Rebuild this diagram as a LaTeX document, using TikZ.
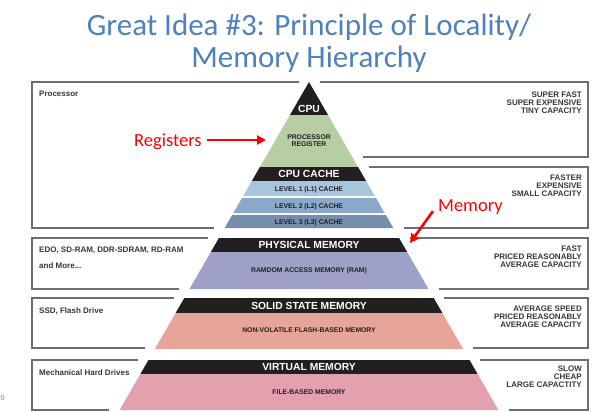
\documentclass[tikz,border=0pt]{standalone}
\usepackage{fontspec}
\setmainfont{Liberation Sans}
\newfontfamily\calib{Carlito}
\usetikzlibrary{arrows.meta}
\definecolor{ttl}{RGB}{79,129,189}
\definecolor{band}{RGB}{35,31,32}
\definecolor{regc}{RGB}{183,206,165}
\definecolor{lone}{RGB}{168,197,222}
\definecolor{ltwo}{RGB}{137,168,202}
\definecolor{lthree}{RGB}{118,142,174}
\definecolor{ramc}{RGB}{157,160,199}
\definecolor{ssdc}{RGB}{231,165,153}
\definecolor{filec}{RGB}{227,161,176}
\definecolor{boxc}{RGB}{110,110,110}
\definecolor{lbl}{RGB}{55,55,55}
\newcommand\pyrlayer[3]{\fill[#3] ({309-(#1-82)*0.5774},#1) -- ({309+(#1-82)*0.5774},#1) -- ({309+(#2-82)*0.5774},#2) -- ({309-(#2-82)*0.5774},#2) -- cycle;}
\newcommand\boxL[2]{\draw[frame] ({309-(#1-82)*0.5774-10.5},#1) -- (32,#1) -- (32,#2) -- ({309-(#2-82)*0.5774-10.5},#2);}
\newcommand\boxR[2]{\draw[frame] ({309+(#1-82)*0.5774+10.5},#1) -- (588,#1) -- (588,#2) -- ({309+(#2-82)*0.5774+10.5},#2);}
\tikzset{
 head/.style={font=\bfseries\fontsize{10.3}{10.3}\selectfont, text=white, inner sep=0, anchor=base},
 small/.style={font=\bfseries\fontsize{6.8}{6.8}\selectfont, text=band, inner sep=0, anchor=base, align=center},
 sidel/.style={font=\bfseries\fontsize{8}{8}\selectfont, text=lbl, inner sep=0, anchor=base west},
 sider/.style={font=\bfseries\fontsize{8}{8}\selectfont, text=lbl, inner sep=0, anchor=north east, align=right},
 frame/.style={draw=boxc, line width=1.2pt},
 redtxt/.style={font=\calib\fontsize{18.5}{18.5}\selectfont, text=red, inner sep=0, anchor=base west},
 redarrow/.style={draw=red, line width=2.6pt, -{Triangle[length=9pt,width=9pt]}},
 ttlstyle/.style={font=\calib\fontsize{31}{31}\selectfont, text=ttl, inner sep=0, anchor=base},
}
\begin{document}
\begin{tikzpicture}[x=1pt,y=-1pt]
\useasboundingbox (0,0) rectangle (616,412);
\fill[white] (0,0) rectangle (616,412);
% title
\node[ttlstyle] (t1) at (309,35.5) {Great Idea \#3: Principle of Locality/};
\node[ttlstyle] (t2) at (309,67.5) {Memory Hierarchy};
% side boxes
\boxL{82}{228}
\boxL{238}{289}
\boxL{298}{348}
\boxL{360}{410}
\boxR{82}{157}
\boxR{167}{228}
\boxR{238}{289}
\boxR{298}{348}
\boxR{360}{410}
% pyramid
\pyrlayer{82}{115}{band}
\pyrlayer{115}{167}{regc}
\pyrlayer{167}{181}{band}
\pyrlayer{181}{196}{lone}
\pyrlayer{198}{213}{ltwo}
\pyrlayer{215}{228}{lthree}
\pyrlayer{238}{252}{band}
\pyrlayer{252}{289}{ramc}
\pyrlayer{298}{313}{band}
\pyrlayer{313}{349}{ssdc}
\pyrlayer{360}{374}{band}
\pyrlayer{374}{410}{filec}
% pyramid labels
\node[head] (cpu) at (309,112.5) {CPU};
\node[small, anchor=center] (preg) at (309,141) {PROCESSOR\\REGISTER};
\node[head] (cc) at (309,177.7) {CPU CACHE};
\node[small] (l1) at (309,191.5) {LEVEL 1 (L1) CACHE};
\node[small] (l2) at (309,208) {LEVEL 2 (L2) CACHE};
\node[small] (l3) at (309,224) {LEVEL 3 (L3) CACHE};
\node[head] (pm) at (309,248.7) {PHYSICAL MEMORY};
\node[small] (ram) at (309,272.5) {RAMDOM ACCESS MEMORY (RAM)};
\node[head] (ssm) at (309,309.7) {SOLID STATE MEMORY};
\node[small] (nv) at (309,332.5) {NON-VOLATILE FLASH-BASED MEMORY};
\node[head] (vm) at (309,370.7) {VIRTUAL MEMORY};
\node[small] (fb) at (309,394.5) {FILE-BASED MEMORY};
% left texts
\node[sidel] (proc) at (39,96) {Processor};
\node[sidel] (edo) at (39,252) {EDO, SD-RAM, DDR-SDRAM, RD-RAM};
\node[sidel] (more) at (39,268) {and More...};
\node[sidel] (ssd) at (39,313) {SSD, Flash Drive};
\node[sidel] (mhd) at (39,375) {Mechanical Hard Drives};
% right texts
\node[sider] (r1) at (582,92) {SUPER FAST\\SUPER EXPENSIVE\\TINY CAPACITY};
\node[sider] (r2) at (582,175) {FASTER\\EXPENSIVE\\SMALL CAPACITY};
\node[sider] (r3) at (582,246) {FAST\\PRICED REASONABLY\\AVERAGE CAPACITY};
\node[sider] (r4) at (582,306) {AVERAGE SPEED\\PRICED REASONABLY\\AVERAGE CAPACITY};
\node[sider] (r5) at (582,366) {SLOW\\CHEAP\\LARGE CAPACTITY};
% red annotations
\node[redtxt] (reg) at (134,146.5) {Registers};
\coordinate (regtip) at (266,140);
\draw[redarrow] (reg.east |- regtip) ++(5,0) -- (regtip);
\node[redtxt] (mem) at (438,211.5) {Memory};
\coordinate (memtip) at (410,243);
\draw[redarrow] ([shift={(-5,4)}]mem.west) -- (memtip);
% slide number
\node[font=\calib\fontsize{8}{8}\selectfont, text=gray, inner sep=0, anchor=base west] (pg) at (0.5,400) {0};
\end{tikzpicture}
\end{document}
